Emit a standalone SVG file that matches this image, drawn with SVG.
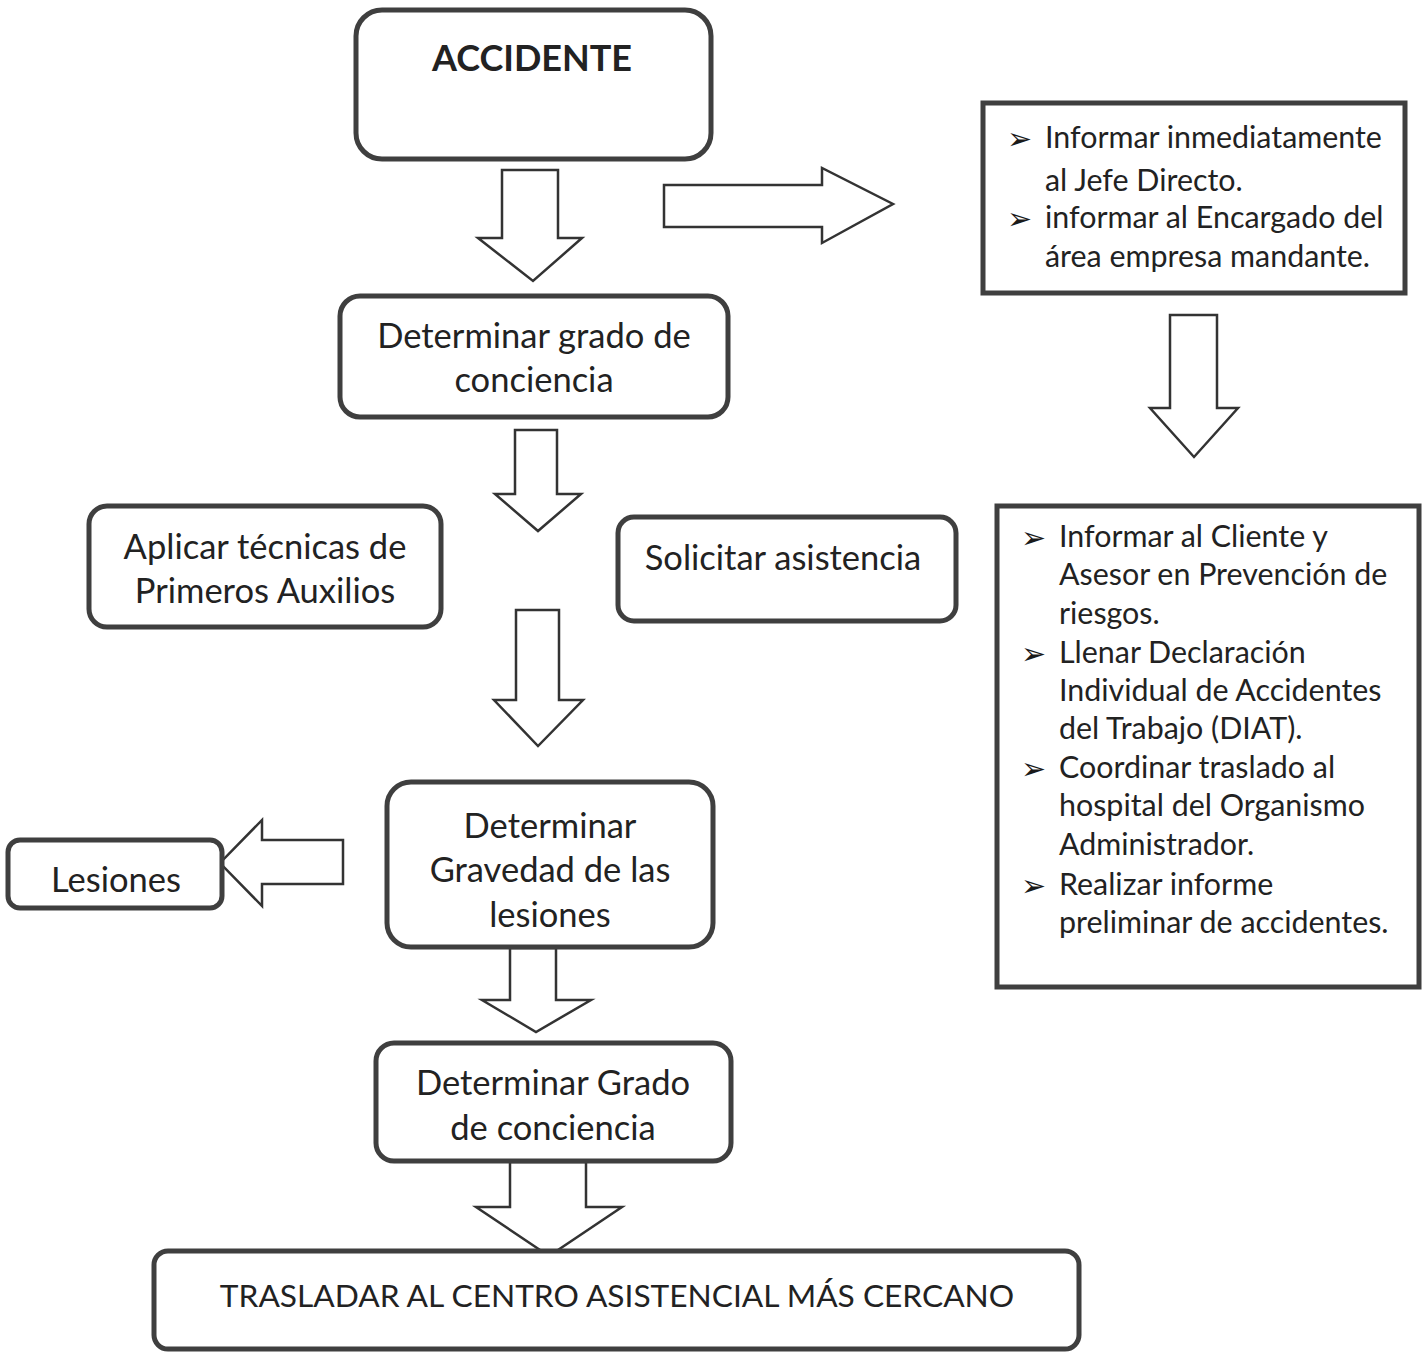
<svg xmlns="http://www.w3.org/2000/svg" width="1423" height="1353" viewBox="0 0 1423 1353">
<style>
.box{fill:#fff;stroke:#3f3f3f;stroke-width:5}
.arr{fill:#fff;stroke:#333;stroke-width:2.5;stroke-linejoin:miter}
.t{font-family:Lato,"Liberation Sans",sans-serif;font-size:34.5px;fill:#222;text-anchor:middle}
.l{font-family:Lato,"Liberation Sans",sans-serif;font-size:30.4px;fill:#222}
.b{font-family:"DejaVu Sans",sans-serif;font-size:30px;fill:#1a1a1a}
</style>
<rect width="1423" height="1353" fill="#fff"/>
<g id="connectors">
<path class="arr" d="M502,170 H558 V238 H582 L533,281 L478,238 H502 Z"/>
<path class="arr" d="M664,185 H822 V168 L893,204 L822,243 V227 H664 Z"/>
<path class="arr" d="M1170,315 H1217 V408 H1238 L1194,457 L1150,408 H1170 Z"/>
<path class="arr" d="M515,430 H557 V494 H581 L538,531 L495,494 H515 Z"/>
<path class="arr" d="M516,610 H559 V700 H583 L538,746 L494,700 H516 Z"/>
<path class="arr" d="M343,840 V884 H262 V906 L220,863 L262,820 V840 Z"/>
<path class="arr" d="M510,948 H556 V1000 H591 L536,1032 L482,1000 H510 Z"/>
<path class="arr" d="M510,1162 H586 V1207 H622 L549,1256 L476,1207 H510 Z"/>
</g>
<g id="accidente">
<rect class="box" x="356" y="10" width="355" height="149" rx="26"/>
<text class="t" x="532" y="71" style="font-weight:bold;font-size:36px">ACCIDENTE</text>
</g>
<g id="informar-jefe">
<rect class="box" x="983" y="103" width="422" height="190"/>
<text class="b" x="1007" y="149">➢</text>
<text class="l" x="1045" y="148">Informar inmediatamente</text>
<text class="l" x="1045" y="191">al Jefe Directo.</text>
<text class="b" x="1007" y="229">➢</text>
<text class="l" x="1045" y="228">informar al Encargado del</text>
<text class="l" x="1045" y="267">área empresa mandante.</text>
</g>
<g id="grado-conciencia-1">
<rect class="box" x="340" y="296" width="388" height="121" rx="20"/>
<text class="t" x="534" y="348">Determinar grado de</text>
<text class="t" x="534" y="392">conciencia</text>
</g>
<g id="primeros-auxilios">
<rect class="box" x="89" y="506" width="352" height="121" rx="18"/>
<text class="t" x="265" y="559">Aplicar técnicas de</text>
<text class="t" x="265" y="603">Primeros Auxilios</text>
</g>
<g id="solicitar-asistencia">
<rect class="box" x="618" y="517" width="338" height="104" rx="16"/>
<text class="t" x="783" y="570">Solicitar asistencia</text>
</g>
<g id="informar-cliente">
<rect class="box" x="997" y="506" width="422" height="481"/>
<text class="b" x="1021" y="548">➢</text>
<text class="l" x="1059" y="547">Informar al Cliente y</text>
<text class="l" x="1059" y="585">Asesor en Prevención de</text>
<text class="l" x="1059" y="624">riesgos.</text>
<text class="b" x="1021" y="664">➢</text>
<text class="l" x="1059" y="663">Llenar Declaración</text>
<text class="l" x="1059" y="701">Individual de Accidentes</text>
<text class="l" x="1059" y="739">del Trabajo (DIAT).</text>
<text class="b" x="1021" y="779">➢</text>
<text class="l" x="1059" y="778">Coordinar traslado al</text>
<text class="l" x="1059" y="816">hospital del Organismo</text>
<text class="l" x="1059" y="855">Administrador.</text>
<text class="b" x="1021" y="896">➢</text>
<text class="l" x="1059" y="895">Realizar informe</text>
<text class="l" x="1059" y="933">preliminar de accidentes.</text>
</g>
<g id="gravedad-lesiones">
<rect class="box" x="387" y="782" width="326" height="165" rx="24"/>
<text class="t" x="550" y="838">Determinar</text>
<text class="t" x="550" y="882">Gravedad de las</text>
<text class="t" x="550" y="927">lesiones</text>
</g>
<g id="lesiones">
<rect class="box" x="8" y="840" width="214" height="68" rx="12"/>
<text class="t" x="116" y="892">Lesiones</text>
</g>
<g id="grado-conciencia-2">
<rect class="box" x="376" y="1043" width="355" height="118" rx="18"/>
<text class="t" x="553" y="1095">Determinar Grado</text>
<text class="t" x="553" y="1140">de conciencia</text>
</g>
<g id="trasladar">
<rect class="box" x="154" y="1251" width="925" height="98" rx="14"/>
<text class="t" x="617" y="1307" style="font-size:31.7px">TRASLADAR AL CENTRO ASISTENCIAL MÁS CERCANO</text>
</g>
</svg>
